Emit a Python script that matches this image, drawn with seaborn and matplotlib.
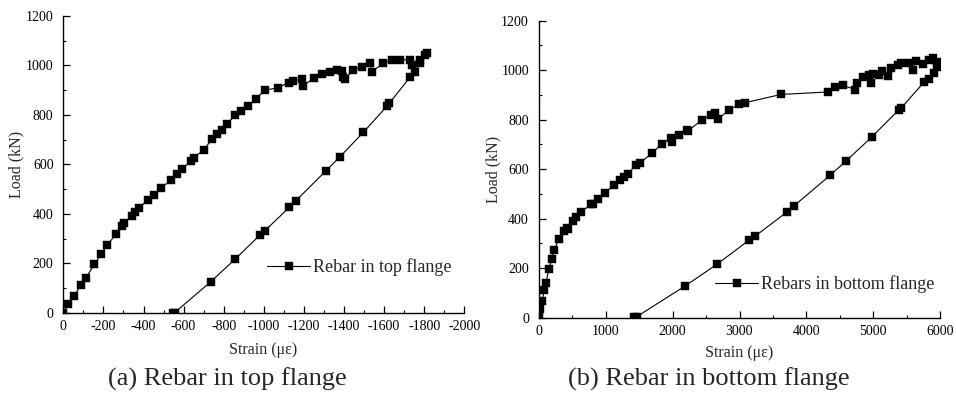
import matplotlib
matplotlib.use("Agg")
import matplotlib.pyplot as plt
import seaborn as sns
import pandas as pd
from matplotlib.ticker import MultipleLocator

# ---- data ----
top_strain = [0, -25, -55, -88, -111, -155, -188, -219, -263, -291, -304, -341, -359, -379,
              -422, -454, -489, -535, -567, -590, -637, -650, -703, -740, -765, -790, -815,
              -856, -884, -923, -959, -1006, -1072, -1124, -1147, -1189, -1197, -1250, -1292,
              -1330, -1363, -1388, -1396, -1405, -1446, -1488, -1530, -1538, -1596, -1638,
              -1679, -1729, -1737, -1779, -1804, -1812,
              -1779, -1754, -1729, -1626, -1616, -1496, -1380, -1310, -1159, -1127, -1006,
              -981, -856, -735, -555, -545]
top_load = [0, 34, 69, 112, 139, 195, 236, 274, 317, 352, 364, 391, 408, 425,
            456, 476, 505, 535, 561, 580, 613, 627, 660, 701, 721, 739, 762,
            799, 817, 836, 864, 900, 910, 931, 938, 945, 918, 949, 965,
            975, 981, 977, 954, 946, 981, 995, 1008, 975, 1008, 1024,
            1022, 1024, 1002, 1024, 1042, 1051,
            1008, 975, 952, 847, 837, 729, 631, 574, 452, 426, 332,
            314, 216, 125, 0, 0]

bot_strain = [10, 25, 50, 85, 110, 149, 199, 224, 309, 383, 418, 433, 508, 558, 632,
              782, 817, 881, 996, 1120, 1215, 1280, 1329, 1454, 1519, 1688, 1842, 1977,
              1987, 2091, 2211, 2226, 2440, 2574, 2639, 2674, 2838, 2997, 3087, 3620,
              4317, 4431, 4541, 4730, 4750, 4850, 4939, 4964, 4989, 5089, 5129, 5223,
              5263, 5362, 5412, 5537, 5586, 5636, 5736, 5835, 5895, 5945, 5950,
              5910, 5825, 5761, 5412, 5377, 4979, 4591, 4357, 3819, 3704, 3236, 3146,
              2659, 2186, 1464, 1429]
bot_load = [4, 34, 69, 112, 139, 195, 236, 273, 318, 352, 364, 357, 391, 405, 426,
            459, 459, 478, 505, 536, 556, 570, 580, 617, 626, 664, 702, 725,
            711, 739, 758, 754, 799, 819, 826, 801, 839, 862, 869, 902,
            912, 931, 939, 922, 949, 971, 981, 949, 984, 980, 998, 976,
            1007, 1021, 1028, 1028, 1001, 1037, 1025, 1041, 1048, 1034, 1014,
            987, 963, 953, 846, 839, 731, 633, 576, 453, 426, 330, 314,
            215, 128, 4, 4]

top_label = "Rebar in top flange"
bot_label = "Rebars in bottom flange"
caption_a = "(a) Rebar in top flange"
caption_b = "(b) Rebar in bottom flange"
xlabel = "Strain (\u03bc\u03b5)"
ylabel = "Load (kN)"

sns.set_theme(style="ticks")
plt.rcParams["font.family"] = ["Liberation Serif", "DejaVu Serif"]
plt.rcParams["axes.unicode_minus"] = False

W, H = 956, 396
fig = plt.figure(figsize=(W / 100, H / 100), dpi=100)
fig.patch.set_facecolor("white")

def px_axes(x0, y0, x1, y1):
    return fig.add_axes([x0 / W, 1 - y1 / H, (x1 - x0) / W, (y1 - y0) / H])

ax1 = px_axes(63.3, 16, 464.3, 312.7)
ax2 = px_axes(538.7, 20.7, 940.3, 317.7)

df_top = pd.DataFrame({"strain": top_strain, "load": top_load})
df_bot = pd.DataFrame({"strain": bot_strain, "load": bot_load})

common = dict(sort=False, estimator=None, color="black", marker="s", markersize=5.2,
              markeredgecolor="black", markeredgewidth=0.3, linewidth=0.8)
sns.lineplot(data=df_top, x="strain", y="load", ax=ax1, label=top_label, **common)
sns.lineplot(data=df_bot, x="strain", y="load", ax=ax2, label=bot_label, **common)

ax1.set_xlim(0, -2000)
ax1.set_ylim(0, 1200)
ax1.xaxis.set_major_locator(MultipleLocator(200))
ax1.xaxis.set_minor_locator(MultipleLocator(100))
ax2.set_xlim(0, 6000)
ax2.set_ylim(0, 1200)
ax2.xaxis.set_major_locator(MultipleLocator(1000))
ax2.xaxis.set_minor_locator(MultipleLocator(500))

for ax in (ax1, ax2):
    ax.yaxis.set_major_locator(MultipleLocator(200))
    ax.yaxis.set_minor_locator(MultipleLocator(100))
    ax.set_facecolor("white")
    for s in ("top", "right"):
        ax.spines[s].set_visible(False)
    for s in ("left", "bottom"):
        ax.spines[s].set_color("black")
        ax.spines[s].set_linewidth(1.0)
    ax.tick_params(which="major", direction="in", length=5, width=0.9, colors="black",
                   labelsize=10)
    ax.tick_params(which="minor", direction="in", length=2.5, width=0.8, colors="black")
    ax.tick_params(axis="y", which="major", pad=7)
    ax.tick_params(axis="x", which="major", pad=5)
    ax.set_xlabel(xlabel, fontsize=11.5)
    ax.set_ylabel(ylabel, fontsize=11.5)
    ax.grid(False)

ax1.xaxis.set_label_coords(0.498, -0.100)
ax1.yaxis.set_label_coords(-0.096, 0.5)
ax2.xaxis.set_label_coords(0.499, -0.092)
ax2.yaxis.set_label_coords(-0.094, 0.5)

leg_kw = dict(loc="center left", frameon=False, fontsize=13, handlelength=2.4,
              handletextpad=0.15, borderpad=0, borderaxespad=0,
              bbox_transform=fig.transFigure)
ax1.legend(bbox_to_anchor=(267 / W, 1 - 267 / H), **leg_kw)
ax2.legend(bbox_to_anchor=(715 / W, 1 - 284 / H), **leg_kw)

fig.text(227 / W, 1 - 379 / H, caption_a, ha="center", va="center", fontsize=19)
fig.text(709 / W, 1 - 379 / H, caption_b, ha="center", va="center", fontsize=19)

fig.savefig("out.png", dpi=100, facecolor="white")
